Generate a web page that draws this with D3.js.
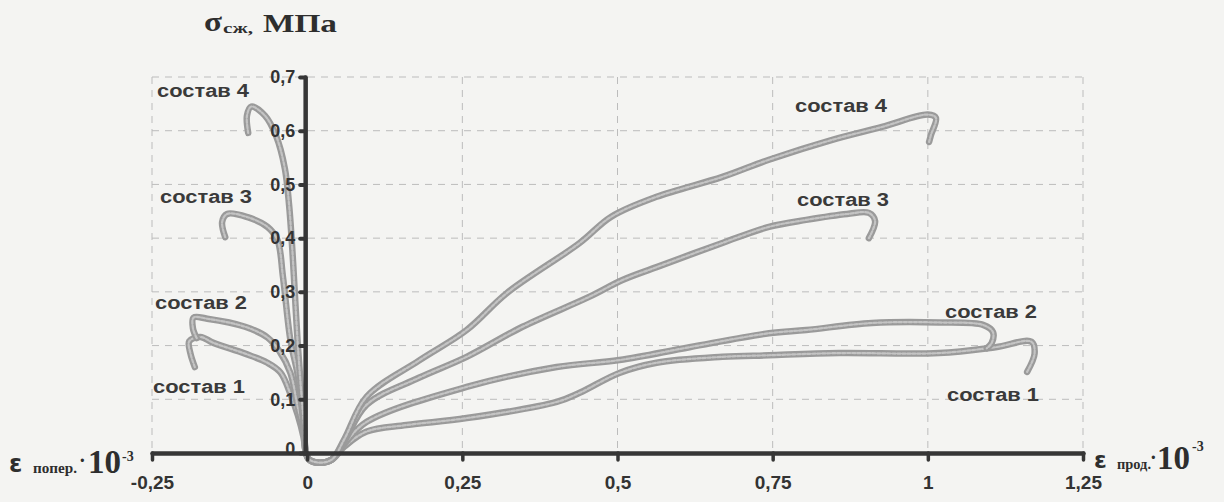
<!DOCTYPE html>
<html><head><meta charset="utf-8">
<script src="https://cdn.jsdelivr.net/npm/d3@7"></script>
<style>
html,body{margin:0;padding:0;background:#f4f4f2;}
svg{display:block;}
</style></head>
<body>
<svg id="chart" width="1224" height="502"></svg>
<script>
// ---- data ----
const xTicks = [-0.25, 0, 0.25, 0.5, 0.75, 1, 1.25];
const xTickLabels = ["-0,25", "0", "0,25", "0,5", "0,75", "1", "1,25"];
const yTicks = [0, 0.1, 0.2, 0.3, 0.4, 0.5, 0.6, 0.7];
const yTickLabels = ["0", "0,1", "0,2", "0,3", "0,4", "0,5", "0,6", "0,7"];
const seriesNames = ["состав 1", "состав 2", "состав 3", "состав 4"];

// longitudinal strain (ε прод.) branches
const s1Long = [[0.003,-0.012],[0.02,-0.018],[0.04,-0.012],[0.06,0.012],[0.096,0.04],[0.16,0.052],[0.257,0.065],[0.402,0.095],[0.439,0.112],[0.503,0.149],[0.563,0.168],[0.669,0.179],[0.744,0.182],[0.857,0.186],[1.018,0.186],[1.109,0.197],[1.167,0.207],[1.172,0.185],[1.16,0.151]];
const s2Long = [[0.003,-0.012],[0.02,-0.018],[0.04,-0.012],[0.06,0.017],[0.096,0.058],[0.257,0.123],[0.402,0.160],[0.503,0.173],[0.616,0.197],[0.744,0.223],[0.804,0.229],[0.91,0.242],[1.018,0.243],[1.09,0.238],[1.105,0.225],[1.103,0.205],[1.095,0.195]];
const s3Long = [[0.003,-0.012],[0.02,-0.018],[0.04,-0.012],[0.06,0.022],[0.096,0.09],[0.18,0.14],[0.257,0.179],[0.347,0.235],[0.455,0.291],[0.508,0.322],[0.563,0.346],[0.669,0.391],[0.744,0.421],[0.804,0.434],[0.87,0.445],[0.905,0.447],[0.915,0.432],[0.905,0.400]];
const s4Long = [[0.003,-0.012],[0.02,-0.018],[0.04,-0.012],[0.06,0.026],[0.096,0.105],[0.18,0.172],[0.257,0.229],[0.322,0.298],[0.439,0.391],[0.49,0.44],[0.563,0.477],[0.669,0.514],[0.744,0.546],[0.846,0.583],[0.926,0.607],[1.0,0.630],[1.013,0.624],[1.005,0.592],[1.002,0.579]];

// transverse strain (ε попер.) branches
const s1Trans = [[-0.002,0.0],[-0.006,0.03],[-0.015,0.07],[-0.027,0.11],[-0.043,0.15],[-0.064,0.168],[-0.1,0.185],[-0.151,0.205],[-0.172,0.216],[-0.19,0.208],[-0.188,0.185],[-0.181,0.16]];
const s2Trans = [[-0.002,0.0],[-0.006,0.04],[-0.016,0.09],[-0.027,0.149],[-0.045,0.19],[-0.064,0.215],[-0.1,0.235],[-0.161,0.25],[-0.183,0.252],[-0.184,0.232],[-0.178,0.214]];
const s3Trans = [[-0.002,0.0],[-0.005,0.04],[-0.01,0.1],[-0.016,0.15],[-0.027,0.21],[-0.039,0.328],[-0.048,0.397],[-0.064,0.421],[-0.096,0.439],[-0.129,0.445],[-0.137,0.43],[-0.132,0.402]];
const s4Trans = [[-0.002,0.0],[-0.005,0.05],[-0.01,0.12],[-0.015,0.2],[-0.02,0.3],[-0.024,0.38],[-0.029,0.46],[-0.036,0.53],[-0.05,0.59],[-0.068,0.628],[-0.09,0.645],[-0.097,0.628],[-0.095,0.596]];

const longBranches = [s1Long, s2Long, s3Long, s4Long];
const transBranches = [s1Trans, s2Trans, s3Trans, s4Trans];

// ---- layout ----
const svg = d3.select("#chart");
const x = d3.scaleLinear().domain([-0.25, 1.25]).range([152, 1083]);
const y = d3.scaleLinear().domain([0, 0.7]).range([453, 77]);
const x0 = x(0), y0 = y(0);
const ink = "#363636";

svg.append("rect").attr("width",1224).attr("height",502).attr("fill","#f4f4f2");

// dashed grid
const grid = svg.append("g").attr("stroke","#bcbcbc").attr("stroke-width",1).attr("stroke-dasharray","7,6").attr("fill","none");
grid.selectAll("line.h").data(yTicks.slice(1)).join("line")
  .attr("x1", x(-0.25)).attr("x2", x(1.25)).attr("y1", d=>y(d)).attr("y2", d=>y(d));
grid.selectAll("line.v").data(xTicks.filter(d=>d!==0)).join("line")
  .attr("x1", d=>x(d)).attr("x2", d=>x(d)).attr("y1", y(0.7)).attr("y2", y0);

// curves
const line = d3.line().x(d=>x(d[0])).y(d=>y(d[1])).curve(d3.curveCatmullRom.alpha(0.5));
const curves = svg.append("g").attr("fill","none").attr("stroke-linecap","round").attr("stroke-linejoin","round");
longBranches.forEach((lb, i) => {
  const pts = transBranches[i].slice().reverse().concat(lb);
  curves.append("path").attr("d", line(pts)).attr("stroke","#9a9a9a").attr("stroke-width",6.5);
  curves.append("path").attr("d", line(pts)).attr("stroke","#c4c4c4").attr("stroke-width",2.2).attr("stroke-dasharray","3,2");
});

// axes
const xAxis = d3.axisBottom(x).tickValues(xTicks).tickSize(7).tickSizeOuter(0).tickFormat((d,i)=>xTickLabels[i]);
const gx = svg.append("g").attr("transform",`translate(0,${y0})`).call(xAxis);
gx.select(".domain").attr("stroke",ink).attr("stroke-width",4.5).attr("stroke-linecap","round");
gx.selectAll(".tick line").attr("stroke",ink).attr("stroke-width",3.5).attr("stroke-linecap","round").attr("y1",0);
gx.selectAll(".tick text").attr("fill","#333").attr("font-family","Liberation Sans, Arial, sans-serif")
  .attr("font-weight","bold").attr("font-size",19).attr("dy",null).attr("y",36);

const yAxis = d3.axisLeft(y).tickValues(yTicks).tickSize(5).tickSizeOuter(0).tickFormat((d,i)=>yTickLabels[i]);
const gy = svg.append("g").attr("transform",`translate(${x0 - 2},0)`).call(yAxis);
gy.select(".domain").attr("stroke",ink).attr("stroke-width",4.5).attr("stroke-linecap","round");
gy.selectAll(".tick line").attr("stroke",ink).attr("stroke-width",4).attr("stroke-linecap","round");
gy.selectAll(".tick text").attr("fill","#333").attr("font-family","Liberation Sans, Arial, sans-serif")
  .attr("font-weight","bold").attr("font-size",18).attr("x",-10).attr("dy","0.32em");
gy.selectAll(".tick").filter(d=>d===0).select("text").attr("dy","0.1em");

// series labels
const labelPos = [
  {s:3, x:157, y:97}, {s:2, x:160, y:203}, {s:1, x:155, y:309}, {s:0, x:153, y:393},
  {s:3, x:795, y:112}, {s:2, x:797, y:206}, {s:1, x:945, y:318}, {s:0, x:947, y:401}
];
svg.append("g").selectAll("text").data(labelPos).join("text")
  .attr("x", d=>d.x).attr("y", d=>d.y).text(d=>seriesNames[d.s])
  .attr("fill","#3a3a3a").attr("font-family","Liberation Sans, Arial, sans-serif")
  .attr("font-weight","bold").attr("font-size",18).attr("textLength",92).attr("lengthAdjust","spacingAndGlyphs");

// axis titles
const serif = "Liberation Serif, Times New Roman, serif";
const t = svg.append("g").attr("fill","#2e2e2e").attr("font-family",serif).attr("font-weight","bold");
t.append("text").attr("x",204).attr("y",31).attr("font-size",27).attr("textLength",18).attr("lengthAdjust","spacingAndGlyphs").text("σ");
t.append("text").attr("x",223).attr("y",33).attr("font-size",14).attr("textLength",30).attr("lengthAdjust","spacingAndGlyphs").text("сж,");
t.append("text").attr("x",263).attr("y",32).attr("font-size",25).attr("textLength",74).attr("lengthAdjust","spacingAndGlyphs").text("МПа");

// left x label
t.append("text").attr("x",9).attr("y",472).attr("font-size",24).attr("font-family","DejaVu Sans, sans-serif").text("ε");
t.append("text").attr("x",33).attr("y",473).attr("font-size",14).attr("textLength",44).attr("lengthAdjust","spacingAndGlyphs").text("попер.");
t.append("text").attr("x",79).attr("y",467).attr("font-size",20).text("·");
t.append("text").attr("x",88).attr("y",473).attr("font-size",33).text("10");
t.append("text").attr("x",122).attr("y",461).attr("font-size",14).text("-3");

// right x label
t.append("text").attr("x",1094).attr("y",468).attr("font-size",23).attr("font-family","DejaVu Sans, sans-serif").text("ε");
t.append("text").attr("x",1117).attr("y",469).attr("font-size",14).attr("textLength",34).attr("lengthAdjust","spacingAndGlyphs").text("прод.");
t.append("text").attr("x",1150).attr("y",464).attr("font-size",20).text("·");
t.append("text").attr("x",1157).attr("y",469).attr("font-size",33).text("10");
t.append("text").attr("x",1192).attr("y",451).attr("font-size",14).text("-3");
</script>
</body></html>
